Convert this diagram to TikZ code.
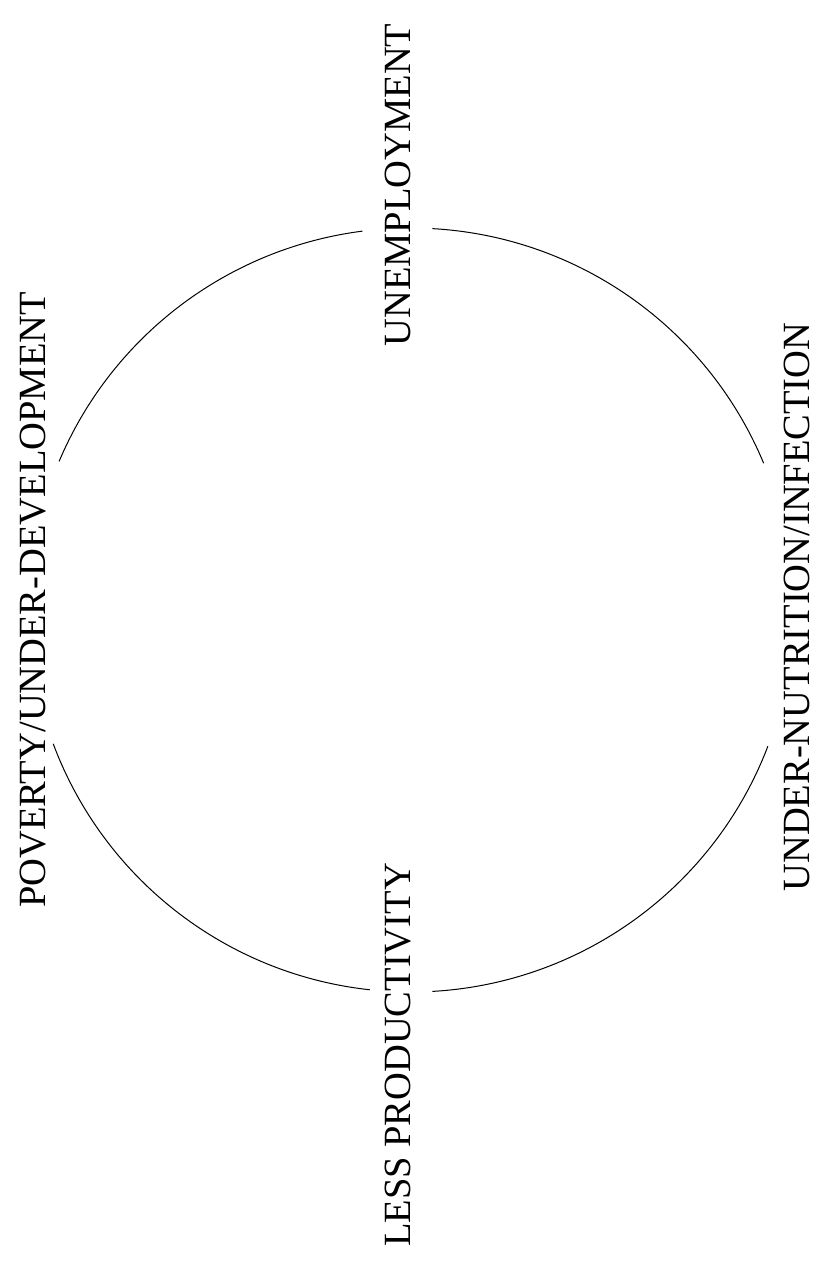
\documentclass[tikz,border=0pt]{standalone}
\usepackage{fontspec}
\setmainfont{Liberation Serif}
\usepackage{tikz}
\usetikzlibrary{calc}

\begin{document}
\begin{tikzpicture}[x=0.5pt,y=0.5pt,every node/.style={font=\fontsize{19.25}{23}\selectfont},cyclelbl/.style={rotate=90,anchor=base,inner sep=0pt},ring/.style={line width=0.5pt,draw=black}]
\useasboundingbox (0,0) rectangle (816,-1281);
\coordinate (ctr) at (411,-610);
\node[cyclelbl] (unemp) at (410,-185) {UNEMPLOYMENT};
\node[cyclelbl] (poverty) at (46,-600) {POVERTY/UNDER-DEVELOPMENT};
\node[cyclelbl] (nutrition) at (809,-607) {UNDER-NUTRITION/INFECTION};
\node[cyclelbl] (lessprod) at (410,-1055) {LESS PRODUCTIVITY};
\coordinate (pov-up) at ($(ctr)+(157.1:382)$);
\coordinate (unemp-l) at ($(ctr)+(97.3:382)$);
\coordinate (unemp-r) at ($(ctr)+(86.8:382)$);
\coordinate (nut-up) at ($(ctr)+(22.6:382)$);
\coordinate (nut-down) at ($(ctr)+(-20.9:382)$);
\coordinate (prod-r) at ($(ctr)+(-86.8:382)$);
\coordinate (prod-l) at ($(ctr)+(-96.2:382)$);
\coordinate (pov-down) at ($(ctr)+(-159.5:382)$);
\draw[ring] (pov-up) arc[start angle=157.1,end angle=97.3,radius=382];
\draw[ring] (unemp-r) arc[start angle=86.8,end angle=22.6,radius=382];
\draw[ring] (nut-down) arc[start angle=-20.9,end angle=-86.8,radius=382];
\draw[ring] (prod-l) arc[start angle=-96.2,end angle=-159.5,radius=382];
\end{tikzpicture}
\end{document}
